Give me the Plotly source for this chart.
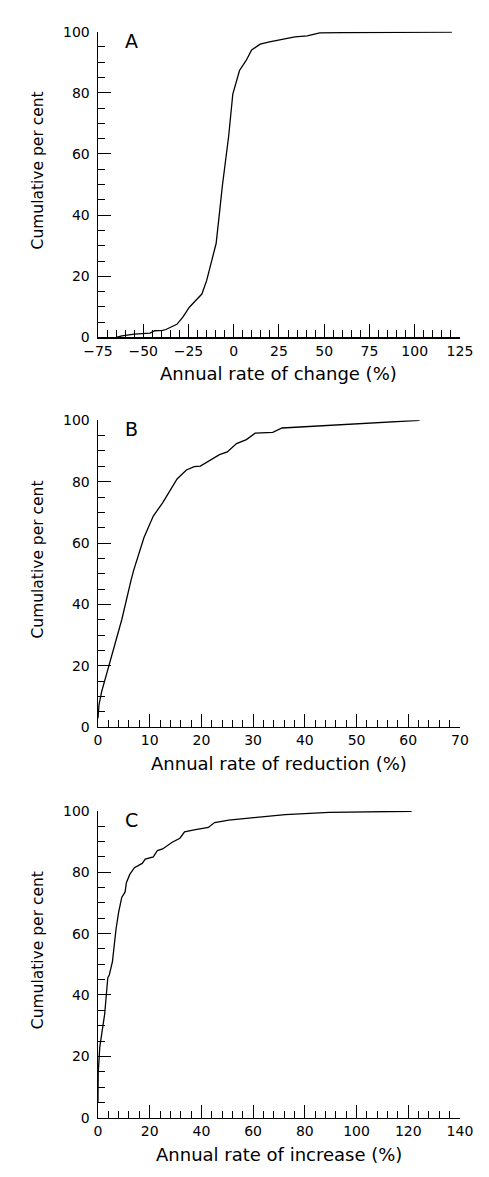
import plotly.graph_objects as go

# ---- data ----
A_x = [-65, -61.8, -54.9, -46.2, -43.6, -39.2, -37.5, -31.4, -28, -24.5, -21.9, -17.6, -15, -13.2, -9.7,
       -7.6, -6.25, -2.8, -0.5, 3.2, 6.8, 9.9, 14.6, 19.8, 33.8, 40.6, 47.5, 60, 80, 120.5]
A_y = [0, 0.5, 1.1, 1.4, 2.2, 2.3, 2.6, 4.3, 6.7, 9.9, 11.5, 14.2, 18.5, 22.8, 30.8,
       42.2, 49.7, 65.8, 79.6, 87.3, 90.5, 94, 95.9, 96.7, 98.3, 98.6, 99.6, 99.7, 99.8, 99.9]

B_x = [0, 0.2, 0.7, 2.2, 4.6, 6.4, 6.9, 8.9, 10.7, 12.5, 13.7, 15.3, 17.1, 18.6, 19.8, 23.5, 25,
       26.8, 28.7, 30.4, 33.8, 35.6, 62.2]
B_y = [2.9, 7.2, 11.5, 20.6, 35, 47.9, 51.1, 61.8, 68.8, 73.1, 76.3, 80.9, 83.8, 84.9, 85.1, 88.8, 89.7,
       92.4, 93.7, 95.8, 96.1, 97.5, 100]

C_x = [0, 0.1, 0.7, 2.6, 3.8, 4.4, 5.6, 7, 8, 9.2, 10.5, 11, 12.3, 14.1, 17.1, 18.3, 21.4, 23, 25,
       28.7, 31.7, 33.5, 37.2, 42.7, 45.1, 50.6, 60.3, 72.4, 89.4, 121.3]
C_y = [4.8, 14.5, 23, 33.8, 45.6, 46.6, 50.9, 61.6, 67, 71.8, 73.6, 76.6, 79.3, 81.5, 82.9, 84.3, 85,
       87.1, 87.6, 89.8, 91.1, 93.2, 93.8, 94.6, 96.2, 97, 97.8, 98.8, 99.5, 99.9]

panel_labels = ["A", "B", "C"]
x_titles = ["Annual rate of change (%)", "Annual rate of reduction (%)", "Annual rate of increase (%)"]
y_title = "Cumulative per cent"
x_ranges = [[-75, 125], [0, 70], [0, 140]]
x_major = [25, 10, 20]
x_minor = [5, 2, 4]

# ---- layout geometry (pixels) ----
W, H = 489, 1177
px_left, px_right = 88, 472
panels_px = [(24, 334), (418, 729), (814, 1125)]  # (top, bottom)

FONT = "DejaVu Sans"
fig = go.Figure()

series = [(A_x, A_y), (B_x, B_y), (C_x, C_y)]
annotations = []
for i, ((xs, ys), (top, bot)) in enumerate(zip(series, panels_px)):
    n = "" if i == 0 else str(i + 1)
    xa = "x" + n
    ya = "y" + n
    fig.add_trace(go.Scatter(x=xs, y=ys, mode="lines", xaxis=xa, yaxis=ya,
                             line=dict(color="black", width=1.3), showlegend=False,
                             hoverinfo="skip"))
    axis_common = dict(showline=True, linecolor="black", linewidth=1.4, showgrid=False,
                       zeroline=False, ticks="inside", tickcolor="black", tickwidth=1,
                       ticklen=13, tickfont=dict(family=FONT, size=14, color="black"))
    xdom = [px_left / W, px_right / W]
    ydom = [(H - bot) / H, (H - top) / H]
    fig.update_layout(**{
        ("xaxis" + n): dict(axis_common, domain=xdom, range=x_ranges[i], dtick=x_major[i],
                            anchor=ya,
                            minor=dict(ticks="inside", ticklen=7, dtick=x_minor[i],
                                       tickcolor="black", tickwidth=1)),
        ("yaxis" + n): dict(axis_common, domain=ydom, range=[0, 100], dtick=20, anchor=xa,
                            ticklabelstandoff=4,
                            minor=dict(ticks="inside", ticklen=7, dtick=5,
                                       tickcolor="black", tickwidth=1)),
    })
    # panel letter
    annotations.append(dict(text=panel_labels[i], x=124 / W, y=(H - (top + 9)) / H,
                            xref="paper", yref="paper", showarrow=False,
                            xanchor="center", yanchor="middle",
                            font=dict(family=FONT, size=19, color="black")))
    # x title
    annotations.append(dict(text=x_titles[i], x=(px_left + px_right) / 2 / W,
                            y=(H - (bot + 37)) / H, xref="paper", yref="paper",
                            showarrow=False, xanchor="center", yanchor="middle",
                            font=dict(family=FONT, size=18, color="black")))
    # y title
    annotations.append(dict(text=y_title, x=24 / W, y=(H - ((top + bot) / 2 - 14)) / H,
                            xref="paper", yref="paper", showarrow=False, textangle=-90,
                            xanchor="center", yanchor="middle",
                            font=dict(family=FONT, size=15.5, color="black")))

fig.update_layout(width=W, height=H, margin=dict(l=0, r=0, t=0, b=0),
                  paper_bgcolor="white", plot_bgcolor="white",
                  annotations=annotations, showlegend=False, hovermode=False)

fig.write_html("out.html", config={"displayModeBar": False, "staticPlot": True},
               post_script="document.body.style.margin='0';document.body.style.overflow='hidden';")
